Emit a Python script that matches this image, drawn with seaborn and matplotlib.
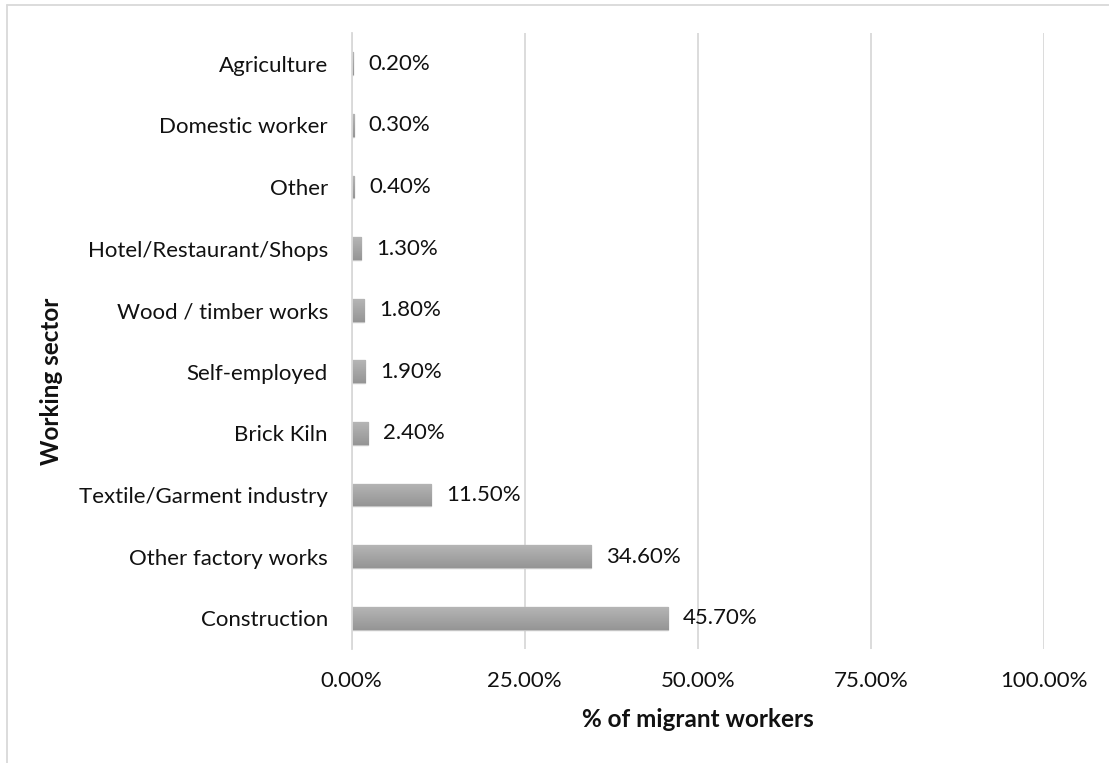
import numpy as np
import pandas as pd
import matplotlib
matplotlib.use("Agg")
import matplotlib.pyplot as plt
from matplotlib.lines import Line2D
import seaborn as sns

# Share of migrant workers by working sector (%)
sectors = [
    "Agriculture",
    "Domestic worker",
    "Other",
    "Hotel/Restaurant/Shops",
    "Wood / timber works",
    "Self-employed",
    "Brick Kiln",
    "Textile/Garment industry",
    "Other factory works",
    "Construction",
]
shares = [0.2, 0.3, 0.4, 1.3, 1.8, 1.9, 2.4, 11.5, 34.6, 45.7]
x_ticks = [0, 25, 50, 75, 100]

df = pd.DataFrame({"sector": sectors, "share": shares})

sns.set_theme(style="white")
plt.rcParams["font.family"] = ["Lato", "DejaVu Sans"]

W, H = 1109, 763
fig = plt.figure(figsize=(W / 100, H / 100), dpi=100)
ax = fig.add_axes([351.5 / W, 1 - 649 / H, (1044 - 351.5) / W, (649 - 33) / H])

sns.barplot(data=df, x="share", y="sector", orient="h", width=0.37,
            color="#a6a6a6", edgecolor="#c4c4c4", linewidth=1.0,
            saturation=1, ax=ax, zorder=2)

# vertical gradient fill on each bar
grad = np.linspace(0, 1, 64).reshape(-1, 1)
cmap = matplotlib.colors.LinearSegmentedColormap.from_list("bargrad", ["#b5b5b5", "#959595"])
for patch in ax.patches:
    x0, y0 = patch.get_x(), patch.get_y()
    w, h = patch.get_width(), patch.get_height()
    if w <= 0:
        continue
    im = ax.imshow(grad, extent=[x0, x0 + w, y0 + h, y0], aspect="auto",
                   cmap=cmap, origin="upper", zorder=2.5, interpolation="bilinear")
    im.set_clip_path(patch)

ax.set_xlim(0, 100)
ax.set_ylim(9.5, -0.5)
ax.set_xticks(x_ticks)
ax.set_xticklabels([f"{t:.2f}%" for t in x_ticks])
ax.xaxis.grid(True, color="#d9d9d9", linewidth=1.3, zorder=0)
ax.yaxis.grid(False)
for side in ["top", "right", "bottom"]:
    ax.spines[side].set_visible(False)
ax.spines["left"].set_color("#d9d9d9")
ax.spines["left"].set_linewidth(1.3)
ax.spines["left"].set_zorder(3)
ax.tick_params(axis="both", length=0, labelsize=16, colors="#111111")
ax.tick_params(axis="x", pad=16)
ax.tick_params(axis="y", pad=17)

ax.bar_label(ax.containers[0], labels=[f"{v:.2f}%" for v in shares],
             padding=11, fontsize=16, color="#111111")

ax.set_xlabel("% of migrant workers", fontsize=17.5, fontweight="bold",
              color="#111111", labelpad=12)
ax.set_ylabel("Working sector", fontsize=17.5, fontweight="bold", color="#111111")
ax.yaxis.set_label_coords(52 / W, 0.5, transform=fig.transFigure)
ax.yaxis.label.set_verticalalignment("center")

# chart frame (top and left edges)
fig.add_artist(Line2D([7 / W, 1], [1 - 5 / H, 1 - 5 / H], color="#d9d9d9", lw=1.3,
                      transform=fig.transFigure))
fig.add_artist(Line2D([7 / W, 7 / W], [0, 1 - 5 / H], color="#d9d9d9", lw=1.3,
                      transform=fig.transFigure))

fig.savefig("out.png", dpi=100, facecolor="white")
